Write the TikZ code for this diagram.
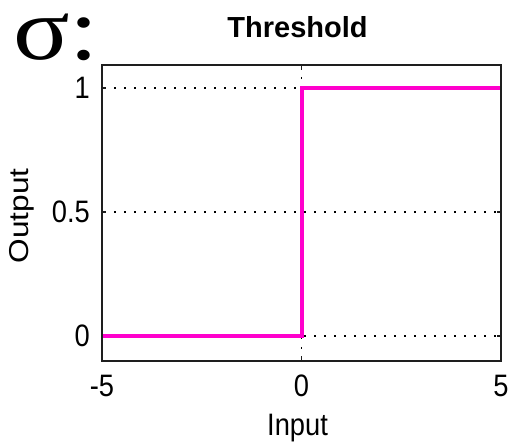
\documentclass[tikz,border=0pt]{standalone}
\usepackage{fontspec}
\setmainfont{Liberation Sans}
\newfontfamily\serifsig{Liberation Serif}
\definecolor{plotmag}{RGB}{255,0,204}
\definecolor{axgray}{RGB}{30,30,30}
\begin{document}
\begin{tikzpicture}[x=1pt,y=1pt,
  lbl/.style={inner sep=0pt, font=\fontsize{31}{31}\selectfont, xscale=0.88},
  gridln/.style={black, line width=1.6pt, dash pattern=on 1.6pt off 8.4pt},
  tickln/.style={axgray, line width=1.4pt},
  curve/.style={plotmag, line width=4pt, line join=miter}]
\useasboundingbox (0,0) rectangle (510,441);
\fill[white] (0,0) rectangle (510,441);
% data frame: x in [-5,5] -> 102..501 ; y: 0 -> 105, 1 -> 353
\coordinate (bl) at (102,80);
\coordinate (tr) at (501,376);
% grid
\draw[gridln] (104,353) -- (499,353);
\draw[gridln] (104,229) -- (499,229);
\draw[gridln] (104,105) -- (499,105);
\draw[gridln] (301.5,374) -- (301.5,82);
% ticks
\foreach \yy in {353,229,105}{
  \draw[tickln] (102,\yy) -- (106,\yy);
  \draw[tickln] (501,\yy) -- (497,\yy);
}
\draw[tickln] (301.5,376) -- (301.5,371);
\draw[tickln] (301.5,80) -- (301.5,85);
% curve
\draw[curve] (102,105) -- (301.5,105) -- (301.5,353) -- (501,353);
% frame
\draw[axgray, line width=1.8pt] (bl) rectangle (tr);
% labels
\node[lbl, anchor=base] (xm5) at (102,45) {-5};
\node[lbl, anchor=base] (x0) at (301.5,45) {0};
\node[lbl, anchor=base] (x5) at (501,45) {5};
\node[lbl, anchor=east] (y1) at (90,353) {1};
\node[lbl, anchor=east] (y05) at (90,229) {0.5};
\node[lbl, anchor=east] (y0) at (90,105) {0};
\node[lbl, anchor=base] (xlab) at (297.5,6) {Input};
\node[lbl, rotate=90, anchor=base, xscale=1.02] (ylab) at (28,225) {Output};
\node[inner sep=0pt, anchor=base, font=\bfseries\fontsize{29}{29}\selectfont] (title) at (297.5,403) {Threshold};
\node[inner sep=0pt, anchor=base west, xscale=1.18, text height=44pt, text depth=0pt,
      font=\serifsig\fontsize{89}{89}\selectfont] (sig) at (13,381) {σ:};
\end{tikzpicture}
\end{document}
